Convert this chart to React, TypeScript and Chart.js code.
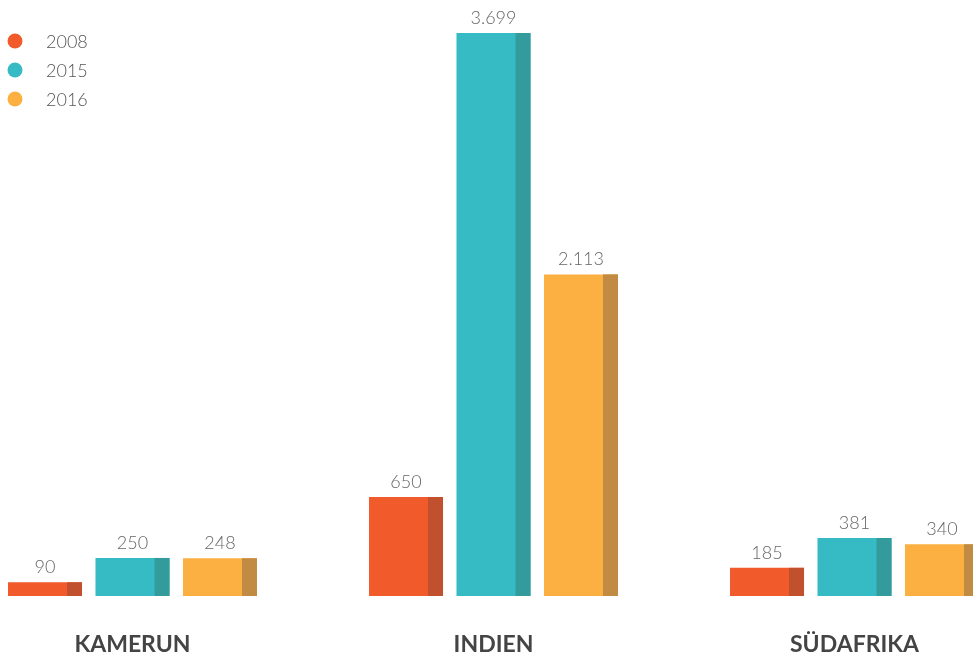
import React, { useEffect, useRef } from "react";
import { Chart, registerables } from "chart.js";

Chart.register(...registerables);

const categories = ["KAMERUN", "INDIEN", "SÜDAFRIKA"];
const seriesNames = ["2008", "2015", "2016"];
const values2008 = [90, 650, 185];
const values2015 = [250, 3699, 381];
const values2016 = [248, 2113, 340];

const mainColors = ["#F15A2B", "#36BBC4", "#FBB041"];
const darkColors = ["#C1502F", "#339B9C", "#C28B43"];

const SHIFT = 48; // canvas extends left beyond page

function fmt(v: number): string {
  const s = String(Math.round(v));
  return s.replace(/\B(?=(\d{3})+(?!\d))/g, ".");
}

const decorPlugin = {
  id: "decor",
  afterDatasetsDraw(chart: any) {
    const ctx = chart.ctx;
    ctx.save();
    chart.data.datasets.forEach((ds: any, di: number) => {
      const meta = chart.getDatasetMeta(di);
      meta.data.forEach((el: any, i: number) => {
        const p = el.getProps(["x", "y", "base", "width"], true);
        ctx.fillStyle = darkColors[di];
        const sw = 15;
        ctx.fillRect(p.x + p.width / 2 - sw, p.y, sw, p.base - p.y);
        ctx.fillStyle = "#666666";
        ctx.font = "300 18px Lato, 'Open Sans', sans-serif";
        ctx.textAlign = "center";
        ctx.textBaseline = "bottom";
        ctx.fillText(fmt(ds.data[i]), p.x, p.y - 6);
      });
    });
    ctx.restore();
  },
  afterDraw(chart: any) {
    const ctx = chart.ctx;
    ctx.save();
    chart.data.datasets.forEach((ds: any, di: number) => {
      const cy = 41 + di * 29;
      ctx.fillStyle = mainColors[di];
      ctx.beginPath();
      ctx.arc(15 + SHIFT, cy, 7.5, 0, Math.PI * 2);
      ctx.fill();
      ctx.fillStyle = "#555555";
      ctx.font = "300 18px Lato, 'Open Sans', sans-serif";
      ctx.textAlign = "left";
      ctx.textBaseline = "middle";
      ctx.fillText(ds.label, 46 + SHIFT, cy + 1);
    });
    ctx.restore();
  },
};

export default function App() {
  const ref = useRef<HTMLCanvasElement | null>(null);
  useEffect(() => {
    if (!ref.current) return;
    const chart = new Chart(ref.current, {
      type: "bar",
      data: {
        labels: categories,
        datasets: [values2008, values2015, values2016].map((d, i) => ({
          label: seriesNames[i],
          data: d,
          backgroundColor: mainColors[i],
          borderWidth: 0,
          categoryPercentage: 0.727,
          barPercentage: 0.846,
        })),
      },
      options: {
        responsive: false,
        animation: false,
        layout: { padding: { top: 33, bottom: 2, left: 0, right: 0 } },
        plugins: { legend: { display: false }, tooltip: { enabled: false } },
        scales: {
          y: { display: false, min: 0, max: 3699 },
          x: {
            grid: { display: false },
            border: { display: false },
            afterFit: (s: any) => { s.height = 59; },
            ticks: {
              padding: 27,
              maxRotation: 0,
              color: "#444444",
              font: { family: "Lato, 'Open Sans', sans-serif", size: 23, weight: "bold" },
            },
          },
        },
      },
      plugins: [decorPlugin],
    });
    return () => chart.destroy();
  }, []);
  return (
    <div style={{ position: "absolute", left: 0, top: 0, width: 973, height: 657, overflow: "hidden", background: "#fff" }}>
      <canvas
        ref={ref}
        width={1083}
        height={657}
        style={{ position: "absolute", left: -SHIFT, top: 0, width: 1083, height: 657 }}
      />
    </div>
  );
}
